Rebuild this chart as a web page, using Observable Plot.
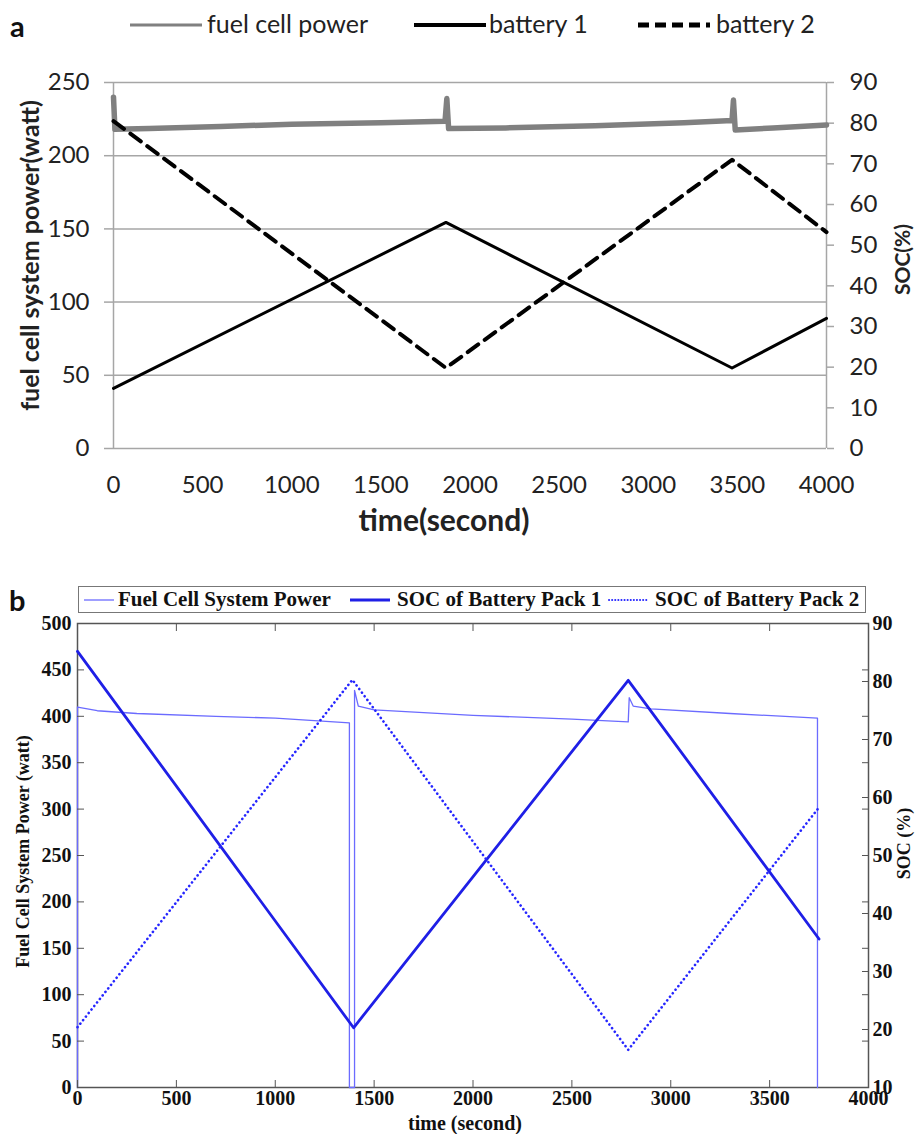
<!DOCTYPE html>
<html><head><meta charset="utf-8">
<script src="https://cdn.jsdelivr.net/npm/d3@7"></script>
<script src="https://cdn.jsdelivr.net/npm/@observablehq/plot@0.6"></script>
<style>
body{margin:0;background:#fff;}
#root{position:relative;width:916px;height:1134px;overflow:hidden;background:#fff;}
.abs{position:absolute;white-space:nowrap;}
.abs svg{display:block;}
.la{font-family:Lato,'Open Sans',sans-serif;font-size:25px;color:#222;line-height:1;}
.lb{font-family:'Liberation Serif','Times New Roman',serif;font-weight:bold;font-size:21px;color:#111;line-height:1;}
</style></head><body><div id="root"></div>
<script>
// ---------- Panel a data ----------
const aTimeTicks = [0,500,1000,1500,2000,2500,3000,3500,4000];
const aPowerTicks = [0,50,100,150,200,250];
const aSocTicks = [0,10,20,30,40,50,60,70,80,90];
const aFuelTime  = [0,   8,   200,   600, 1000,  1500,  1860,  1870, 1880,  2200, 2700,  3200, 3470, 3478, 3488,  3700, 4000];
const aFuelPower = [240, 218, 218.5, 220, 221.5, 222.5, 223.5, 239,  218.5, 219,  220.5, 222.5, 224, 238,  217.5, 219,  221];
const aBatTime = [0, 1865, 3470, 4000];
const aBat1Soc = [14.8, 55.6, 19.8, 32];
const aBat2Soc = [80.5, 19.8, 71, 53.2];

// ---------- Panel b data ----------
const bTimeTicks = [0,500,1000,1500,2000,2500,3000,3500,4000];
const bPowerTicks = [0,50,100,150,200,250,300,350,400,450,500];
const bSocTicks = [10,20,30,40,50,60,70,80,90];
const bFuelTime  = [0, 0,   100, 300, 700, 1000, 1375, 1375, 1401, 1401, 1420, 1500, 2000, 2500, 2785, 2790, 2810, 2900, 3300, 3742, 3742];
const bFuelPower = [0, 410, 406, 403, 400, 398,  393,  0,    0,    428,  411,  407,  401,  397,  394,  420,  411,  408,  403,  398,  0];
const bBat1Time = [0, 1396, 2785, 3750];
const bBat1Soc  = [85.2, 20.3, 80.2, 35.6];
const bBat2Time = [0, 1390, 2785, 3750];
const bBat2Soc  = [20.4, 80.3, 16.5, 58.3];

const root = document.getElementById("root");
const W = 916;
const plain = d => String(d);

// ---------- Panel a ----------
const kA = 250/90;
const fuelA = aFuelTime.map((t,i)=>({t, v:aFuelPower[i]}));
const b1A = aBatTime.map((t,i)=>({t, v:aBat1Soc[i]*kA}));
const b2A = aBatTime.map((t,i)=>({t, v:aBat2Soc[i]*kA}));
const grid = "#a6a6a6";
const plotA = Plot.plot({
  width: W, height: 500,
  marginTop: 42, marginBottom: 92, marginLeft: 113, marginRight: 90,
  style: {fontFamily: "Lato,'Open Sans',sans-serif", fontSize: "24px", color: "#222", background: "transparent", overflow: "visible"},
  x: {domain: [0,4000]},
  y: {domain: [0,250]},
  marks: [
    Plot.ruleY(aPowerTicks, {stroke: grid, strokeWidth: 1.5}),
    Plot.ruleX([0,4000], {stroke: grid, strokeWidth: 1.5}),
    Plot.axisY(aPowerTicks, {anchor: "left", tickSize: 9, tickPadding: 15, stroke: grid, strokeWidth: 1.5, fill: "#222", label: null, fontSize: 24, tickFormat: plain}),
    Plot.axisY(aSocTicks.map(v=>v*kA), {anchor: "right", tickSize: 7, tickPadding: 16, stroke: grid, strokeWidth: 1.5, fill: "#222", label: null, fontSize: 24, tickFormat: d => String(Math.round(d/kA))}),
    Plot.axisX(aTimeTicks, {anchor: "bottom", tickSize: 0, tickPadding: 27, fill: "#222", label: null, fontSize: 24, tickFormat: plain}),
    Plot.text(["fuel cell system power(watt)"], {frameAnchor: "left", textAnchor: "middle", lineAnchor: "middle", rotate: -90, dx: -83, dy: -10, fontWeight: "bold", fontSize: 25, fill: "#222"}),
    Plot.text(["SOC(%)"], {frameAnchor: "right", textAnchor: "middle", lineAnchor: "middle", rotate: -90, dx: 77, dy: -6, fontWeight: "bold", fontSize: 21, fill: "#222"}),
    Plot.text(["time(second)"], {frameAnchor: "bottom", textAnchor: "middle", lineAnchor: "middle", dx: -26, dy: 73, fontWeight: "bold", fontSize: 30, fill: "#222"}),
    Plot.line(fuelA, {x: "t", y: "v", stroke: "#808080", strokeWidth: 5.5}),
    Plot.line(b1A, {x: "t", y: "v", stroke: "#000", strokeWidth: 3}),
    Plot.line(b2A, {x: "t", y: "v", stroke: "#000", strokeWidth: 4, strokeDasharray: "13,8"})
  ]
});
plotA.style.position = "absolute"; plotA.style.left = "0px"; plotA.style.top = "40px";
root.appendChild(plotA);

function add(html, cls, left, top, extra="") {
  const d = document.createElement("div");
  d.className = "abs " + cls;
  d.style.left = left + "px"; d.style.top = top + "px";
  if (extra) d.style.cssText += extra;
  d.innerHTML = html;
  root.appendChild(d);
  return d;
}
// legend a
add("a", "la", 10, 11, "font-weight:bold;font-size:29px;color:#111;");
add('<svg width="72" height="6"><line x1="0" y1="3" x2="72" y2="3" stroke="#808080" stroke-width="3"/></svg>', "la", 130, 22);
add("fuel cell power", "la", 207, 11);
add('<svg width="72" height="6"><line x1="0" y1="3" x2="72" y2="3" stroke="#000" stroke-width="4"/></svg>', "la", 414, 22);
add("battery 1", "la", 489, 11);
add('<svg width="76" height="8"><line x1="2" y1="4" x2="74" y2="4" stroke="#000" stroke-width="5" stroke-dasharray="11,6"/></svg>', "la", 636, 21);
add("battery 2", "la", 716, 11);

// ---------- Panel b ----------
const kB = v => (v-10)*500/80;
const fuelB = bFuelTime.map((t,i)=>({t, v:bFuelPower[i]}));
const b1B = bBat1Time.map((t,i)=>({t, v:kB(bBat1Soc[i])}));
const b2B = bBat2Time.map((t,i)=>({t, v:kB(bBat2Soc[i])}));
const ax = "#555";
const plotB = Plot.plot({
  width: W, height: 534,
  marginTop: 23, marginBottom: 47, marginLeft: 77, marginRight: 48,
  style: {fontFamily: "'Liberation Serif','Times New Roman',serif", fontSize: "20px", fontWeight: "bold", color: "#111", background: "transparent", overflow: "visible"},
  x: {domain: [0,4000]},
  y: {domain: [0,500]},
  marks: [
    Plot.frame({stroke: ax, strokeWidth: 1.5}),
    Plot.line(fuelB, {x: "t", y: "v", stroke: "#6b6bff", strokeWidth: 1.3}),
    Plot.line(b1B, {x: "t", y: "v", stroke: "#1f1fe6", strokeWidth: 2.8}),
    Plot.line(b2B, {x: "t", y: "v", stroke: "#2626ff", strokeWidth: 2.6, strokeDasharray: "0.1,4.4", strokeLinecap: "round"}),
    Plot.axisY(bPowerTicks, {anchor: "left", tickSize: 7, dx: 7, stroke: ax, fill: "none", label: null}),
    Plot.axisY(bPowerTicks, {anchor: "right", tickSize: 7, dx: -7, stroke: ax, fill: "none", label: null}),
    Plot.axisY(bSocTicks.map(kB), {anchor: "right", tickSize: 7, dx: -7, stroke: ax, fill: "none", label: null}),
    Plot.axisX(bTimeTicks, {anchor: "bottom", tickSize: 7, dy: -7, stroke: ax, fill: "none", label: null}),
    Plot.axisX(bTimeTicks, {anchor: "top", tickSize: 7, dy: 7, stroke: ax, fill: "none", label: null}),
    Plot.axisY(bPowerTicks, {anchor: "left", tickSize: 0, tickPadding: 6, fill: "#111", label: null, fontSize: 20, tickFormat: plain}),
    Plot.axisY(bSocTicks.map(kB), {anchor: "right", tickSize: 0, tickPadding: 4, fill: "#111", label: null, fontSize: 20, tickFormat: d => String(Math.round(d*80/500+10))}),
    Plot.axisX(bTimeTicks, {anchor: "bottom", tickSize: 0, tickPadding: 3, fill: "#111", label: null, fontSize: 20, tickFormat: plain}),
    Plot.text(["Fuel Cell System Power (watt)"], {frameAnchor: "left", textAnchor: "middle", lineAnchor: "middle", rotate: -90, dx: -54, dy: -4, fontWeight: "bold", fontSize: 18, fill: "#111"}),
    Plot.text(["SOC (%)"], {frameAnchor: "right", textAnchor: "middle", lineAnchor: "middle", rotate: -90, dx: 36, dy: -12, fontWeight: "bold", fontSize: 18, fill: "#111"}),
    Plot.text(["time (second)"], {frameAnchor: "bottom", textAnchor: "middle", lineAnchor: "middle", dx: -8, dy: 36, fontWeight: "bold", fontSize: 20, fill: "#111"})
  ]
});
plotB.style.position = "absolute"; plotB.style.left = "0px"; plotB.style.top = "600px";
root.appendChild(plotB);

// legend b
add("b", "lb", 9, 585, "font-family:Lato,'Liberation Sans',sans-serif;font-size:29px;");
add("", "", 78, 586, "width:788px;height:27px;border:1.5px solid #777;box-sizing:border-box;");
add('<svg width="30" height="6"><line x1="0" y1="3" x2="30" y2="3" stroke="#6b6bff" stroke-width="1.3"/></svg>', "lb", 84, 597);
add("Fuel Cell System Power", "lb", 118, 589);
add('<svg width="40" height="6"><line x1="0" y1="3" x2="40" y2="3" stroke="#1f1fe6" stroke-width="3"/></svg>', "lb", 350, 597);
add("SOC of Battery Pack 1", "lb", 397, 589);
add('<svg width="42" height="6"><line x1="1" y1="3" x2="41" y2="3" stroke="#2626ff" stroke-width="2" stroke-dasharray="0.1,3" stroke-linecap="round"/></svg>', "lb", 608, 597);
add("SOC of Battery Pack 2", "lb", 655, 589);
</script></body></html>
